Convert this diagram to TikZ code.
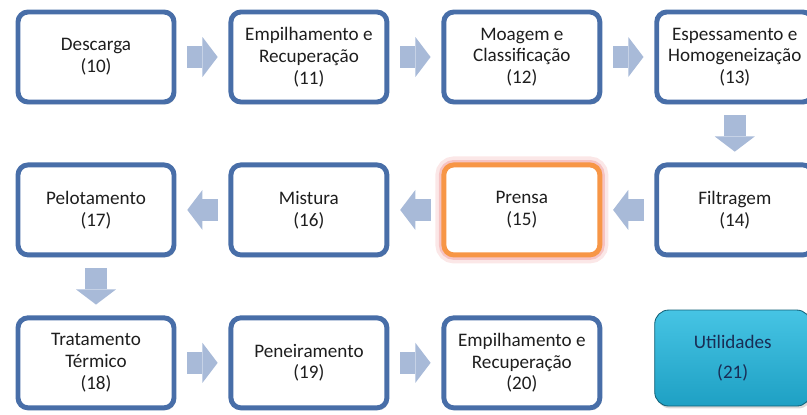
\documentclass[tikz,border=0pt]{standalone}
\usepackage{fontspec}
\setmainfont{Carlito}
\usetikzlibrary{arrows.meta, positioning, shadows}
\definecolor{boxblue}{RGB}{72,110,168}
\definecolor{arrowfill}{RGB}{168,186,216}
\definecolor{textgray}{RGB}{30,30,30}
\definecolor{prensaorange}{RGB}{247,150,70}
\definecolor{glowpink}{RGB}{240,160,160}
\definecolor{utiltop}{RGB}{70,196,228}
\definecolor{utilbottom}{RGB}{30,160,196}
\definecolor{utiltext}{RGB}{25,45,85}

\begin{document}
\begin{tikzpicture}[
        node distance=1.45cm and 1.3cm,
        base/.style={rectangle, rounded corners=0.25cm, draw=boxblue, line width=3.5pt, fill=white, minimum width=3.9cm, minimum height=2.25cm, align=center, text=textgray, font=\fontsize{13.6}{15.5}\selectfont},
        etapa/.style={base, drop shadow={opacity=0.3, shadow xshift=0.04cm, shadow yshift=-0.06cm}},
        flow/.style={arrowfill, line width=0.56cm, -{Triangle[width=1cm, length=0.38cm, line width=0pt]}, shorten <=0.27cm, shorten >=0.27cm}
    ]
        \useasboundingbox (0,0) rectangle (20.175,10.35);
        \clip (0,0) rectangle (20.175,10.35);

        \node[etapa] (descarga) at (2.4,8.925) {Descarga\\(10)};
        \node[etapa, right=of descarga] (empilha) {Empilhamento e\\Recuperação\\(11)};
        \node[etapa, right=of empilha] (moagem) {Moagem e\\Classificação\\(12)};
        \node[etapa, right=of moagem] (espessa) {Espessamento e\\Homogeneização\\(13)};

        \node[etapa, below=of espessa] (filtra) {Filtragem\\(14)};
        \node[base, draw=prensaorange, preaction={draw=glowpink, line width=12pt, opacity=0.25}, preaction={draw=glowpink, line width=7pt, opacity=0.5}, below=of moagem] (prensa) {Prensa\\(15)};
        \node[etapa, below=of empilha] (mistura) {Mistura\\(16)};
        \node[etapa, below=of descarga] (pelota) {Pelotamento\\(17)};

        \node[etapa, below=of pelota] (tratam) {Tratamento\\Térmico\\(18)};
        \node[etapa, right=of tratam] (peneira) {Peneiramento\\(19)};
        \node[etapa, right=of peneira] (empilha2) {Empilhamento e\\Recuperação\\(20)};
        \node[etapa, right=of empilha2, yshift=0.12cm, draw=utilbottom!60!black, line width=0.6pt, rounded corners=0.35cm, top color=utiltop, bottom color=utilbottom, minimum height=2.4cm, text=utiltext] (util) {Utilidades\\[6pt](21)};

        \draw[flow] (descarga) -- (empilha);
        \draw[flow] (empilha) -- (moagem);
        \draw[flow] (moagem) -- (espessa);
        \draw[flow] (espessa) -- (filtra);
        \draw[flow] (filtra) -- (prensa);
        \draw[flow] (prensa) -- (mistura);
        \draw[flow] (mistura) -- (pelota);
        \draw[flow] (pelota) -- (tratam);
        \draw[flow] (tratam) -- (peneira);
        \draw[flow] (peneira) -- (empilha2);
    \end{tikzpicture}
\end{document}
